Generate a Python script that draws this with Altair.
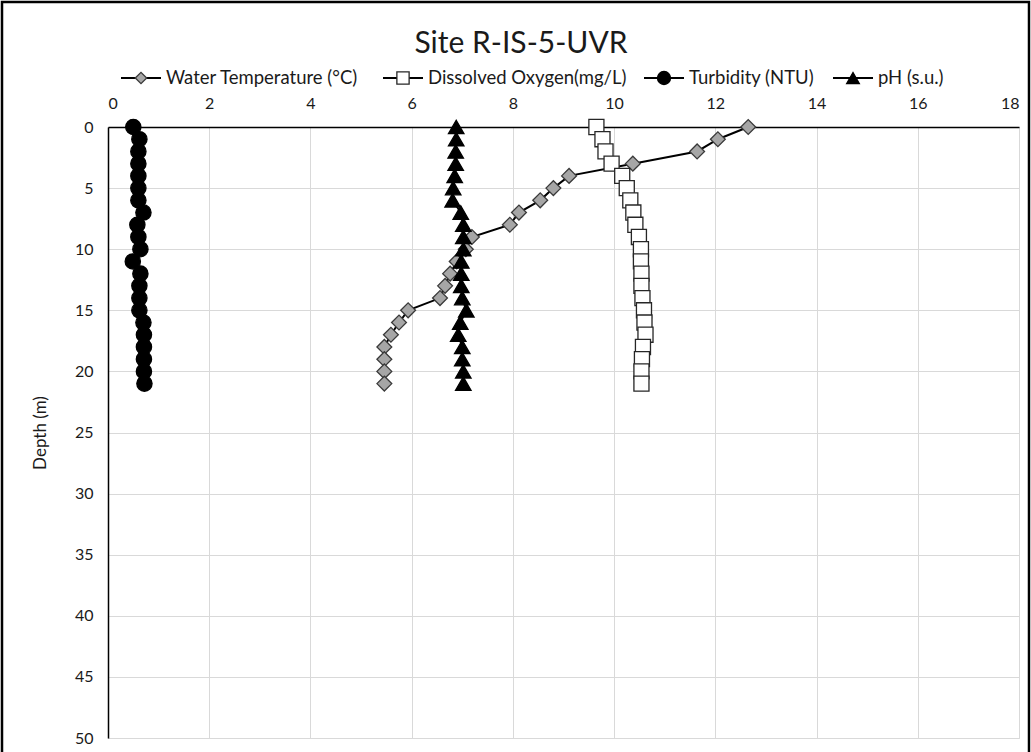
import altair as alt
import pandas as pd

# ---- data ----
depth = list(range(22))
water_temp = [12.65, 12.05, 11.64, 10.37, 9.11, 8.80, 8.54, 8.12, 7.94, 7.19, 7.07,
              6.89, 6.76, 6.66, 6.56, 5.93, 5.75, 5.59, 5.46, 5.46, 5.46, 5.46]
dissolved_oxygen = [9.65, 9.77, 9.83, 9.95, 10.16, 10.25, 10.32, 10.38, 10.42, 10.49, 10.53,
                    10.53, 10.54, 10.54, 10.56, 10.59, 10.60, 10.62, 10.57, 10.55, 10.54, 10.54]
turbidity = [0.50, 0.62, 0.60, 0.60, 0.60, 0.60, 0.60, 0.70, 0.58, 0.60, 0.64,
             0.49, 0.64, 0.62, 0.62, 0.62, 0.70, 0.71, 0.71, 0.71, 0.71, 0.72]
ph = [6.88, 6.88, 6.87, 6.87, 6.85, 6.82, 6.81, 6.97, 7.02, 7.02, 7.02,
      6.98, 6.98, 6.98, 7.00, 7.08, 6.96, 6.92, 7.00, 7.00, 7.02, 7.02]

series_names = ["Water Temperature (°C)", "Dissolved Oxygen(mg/L)", "Turbidity (NTU)", "pH (s.u.)"]
x_ticks = list(range(0, 19, 2))
y_ticks = list(range(0, 51, 5))
title_text = "Site R-IS-5-UVR"

# ---- styles ----
FONT = "Lato"
TXT = "#1a1a1a"
shapes = ["diamond", "square", "circle", "triangle-up"]
fills = ["#a6a6a6", "#ffffff", "#000000", "#000000"]
strokes = ["#3a3a3a", "#262626", "#000000", "#000000"]
sizes = [220, 240, 270, 250]
legend_sizes = [130, 150, 170, 160]

rows = []
for name, vals in zip(series_names, [water_temp, dissolved_oxygen, turbidity, ph]):
    for d, v in zip(depth, vals):
        rows.append({"series": name, "depth": d, "value": v})
df = pd.DataFrame(rows)

W, H = 911, 611
PAD = {"left": 108, "top": 127, "right": 12, "bottom": 14}

xenc = alt.X(
    "value:Q",
    scale=alt.Scale(domain=[0, 18], nice=False, zero=False),
    axis=alt.Axis(orient="top", values=x_ticks, title=None, ticks=False,
                  labelPadding=16, domainColor="#000000", domainWidth=1.5,
                  gridColor="#d9d9d9", gridWidth=1, labelFontSize=16,
                  labelFont=FONT, labelColor=TXT, format="d"),
)
yenc = alt.Y(
    "depth:Q",
    scale=alt.Scale(domain=[0, 50], nice=False, reverse=True),
    axis=alt.Axis(values=y_ticks, title="Depth (m)", ticks=False, labelPadding=15,
                  domainColor="#000000", domainWidth=1.5, gridColor="#d9d9d9",
                  gridWidth=1, labelFontSize=16, labelFont=FONT, labelColor=TXT,
                  titleFont=FONT, titleFontSize=17, titleFontWeight="normal",
                  titleColor=TXT, titlePadding=25),
)

sdom = series_names
lines = alt.Chart(df).mark_line(color="#000000", strokeWidth=2).encode(
    x=xenc, y=yenc, detail="series:N", order=alt.Order("depth:Q")
)
points = alt.Chart(df).mark_point(filled=True, strokeWidth=1.3, opacity=1).encode(
    x=xenc, y=yenc,
    shape=alt.Shape("series:N", scale=alt.Scale(domain=sdom, range=shapes), legend=None),
    fill=alt.Fill("series:N", scale=alt.Scale(domain=sdom, range=fills), legend=None),
    stroke=alt.Stroke("series:N", scale=alt.Scale(domain=sdom, range=strokes), legend=None),
    size=alt.Size("series:N", scale=alt.Scale(domain=sdom, range=sizes), legend=None),
)

# ---- hand-built legend (line + marker + label) above the plot ----
legend_line_start = [121, 383, 644, 833]
LEG_LEN = 40
LEG_Y = 78 - PAD["top"]
legend_layers = []
for i, name in enumerate(series_names):
    ldf = pd.DataFrame({"label": [name]})
    x0 = legend_line_start[i] - PAD["left"]
    legend_layers.append(
        alt.Chart(ldf).mark_rule(color="#000000", strokeWidth=2).encode(
            x=alt.value(x0), x2=alt.value(x0 + LEG_LEN), y=alt.value(LEG_Y)))
    legend_layers.append(
        alt.Chart(ldf).mark_point(filled=True, strokeWidth=1.3, opacity=1).encode(
            x=alt.value(x0 + LEG_LEN / 2), y=alt.value(LEG_Y),
            shape=alt.value(shapes[i]), fill=alt.value(fills[i]),
            stroke=alt.value(strokes[i]), size=alt.value(legend_sizes[i])))
    legend_layers.append(
        alt.Chart(ldf).mark_text(align="left", baseline="middle", font=FONT,
                                 fontSize=18.5, color=TXT).encode(
            x=alt.value(x0 + LEG_LEN + 5), y=alt.value(LEG_Y), text="label:N"))

# ---- chart title as a text mark (centred on the whole chart, like the reference) ----
title_layer = alt.Chart(pd.DataFrame({"t": [title_text]})).mark_text(
    align="center", baseline="alphabetic", font=FONT, fontSize=30, color=TXT).encode(
    x=alt.value(521 - PAD["left"]), y=alt.value(53 - PAD["top"]), text="t:N")

frame = alt.Chart(pd.DataFrame({"k": [0]})).mark_rect(
    fillOpacity=0, stroke="#000000", strokeWidth=2.5).encode(
    x=alt.value(2 - PAD["left"]), x2=alt.value(1029 - PAD["left"]),
    y=alt.value(2 - PAD["top"]), y2=alt.value(800 - PAD["top"]))

chart = alt.layer(lines, points, *legend_layers, title_layer, frame).properties(
    width=W, height=H,
    autosize=alt.AutoSizeParams(type="none"),
    padding=PAD,
).configure_view(stroke=None).configure(background="#ffffff")

chart.save("out.html", embed_options={"renderer": "svg", "actions": False})
